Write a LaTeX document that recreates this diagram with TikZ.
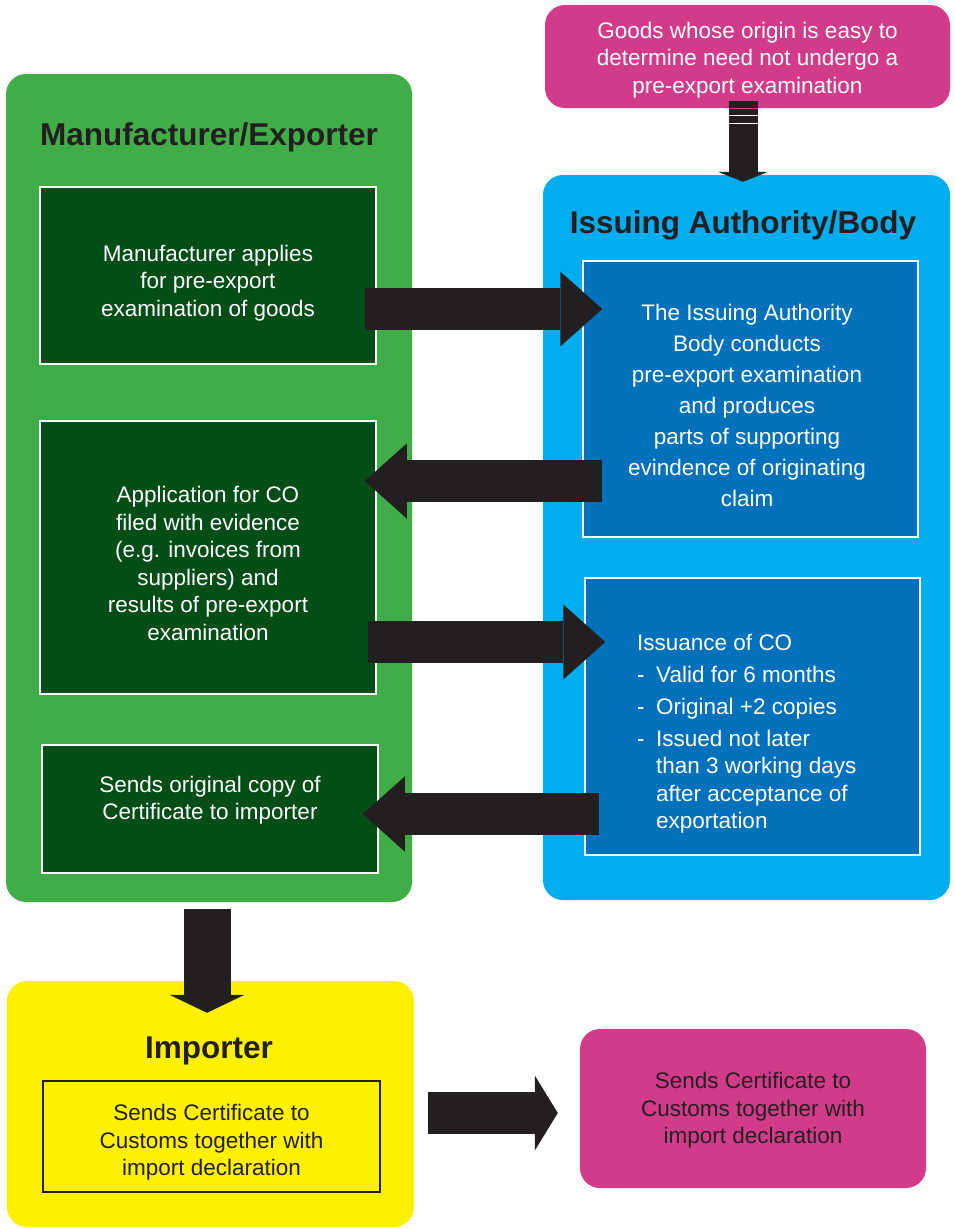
\documentclass[tikz,border=0pt]{standalone}
\usepackage{fontspec}
\setmainfont{Liberation Sans}
\usepackage{tikz}
\usetikzlibrary{arrows.meta,positioning,calc}
\usepackage{xcolor}

\definecolor{mfrgreen}{HTML}{41AD49}
\definecolor{boxgreen}{HTML}{034E16}
\definecolor{iabblue}{HTML}{00AEEF}
\definecolor{boxblue}{HTML}{0071BA}
\definecolor{notepink}{HTML}{D13B8A}
\definecolor{impyellow}{HTML}{FFF100}
\definecolor{arrowblack}{HTML}{231F20}

\begin{document}
\begin{tikzpicture}[
  x=1pt, y=-1pt,
  font=\fontsize{22.5}{27.5}\selectfont,
  panel/.style={rounded corners=20pt, inner sep=0pt},
  ttl/.style={font=\fontsize{31.5}{36}\selectfont\bfseries, text=arrowblack},
  gbox/.style={draw=white, line width=1.5pt, fill=boxgreen, inner sep=0pt},
  bbox/.style={gbox, fill=boxblue},
  txt/.style={align=center, inner sep=0pt, text=white},
  note/.style={panel, fill=notepink},
  blk/.style={draw=arrowblack, line width=42pt,
              -{Triangle[length=42pt 0 0, width=75pt 0 0, line width=0pt 0 0]}},
  stripe/.style={line width=0.9pt}
]
\useasboundingbox (0,0) rectangle (955,1229);

% ================= panels =================
\node[panel, fill=mfrgreen, minimum width=406pt, minimum height=828pt]
  (mfr) at (209,488) {};
\node[panel, fill=iabblue, minimum width=407pt, minimum height=725pt]
  (iab) at (746.5,537.5) {};
\node[panel, fill=impyellow, minimum width=407pt, minimum height=246pt]
  (imp) at (210.5,1104) {};

\node[ttl] (mfrttl) at (209,137) {Manufacturer/Exporter};
\node[ttl] (iabttl) at (743,225) {Issuing Authority/Body};
\node[ttl] (impttl) at (209,1051) {Importer};

% ================= notes =================
\node[note, minimum width=405pt, minimum height=103pt] (goods) at (747.5,56.5) {};
\node[txt] (goodstxt) at (747.5,60)
  {Goods whose origin is easy to\\determine need not undergo a\\pre-export examination};
\node[note, minimum width=346pt, minimum height=159pt] (customs) at (753,1108.5) {};
\node[txt, text=arrowblack] (customstxt) at (753,1110.5)
  {Sends Certificate to\\Customs together with\\import declaration};

% ================= manufacturer steps =================
\node[gbox, minimum width=336pt, minimum height=177pt] (apply) at (208,275.5) {};
\node[txt] (applytxt) at (208,283)
  {Manufacturer applies\\for pre-export\\examination of goods};
\node[gbox, minimum width=336pt, minimum height=273pt] (filed) at (208,557.5) {};
\node[txt] (filedtxt) at (208,563.5)
  {Application for CO\\filed with evidence\\(e.g. invoices from\\suppliers) and\\results of pre-export\\examination};
\node[gbox, minimum width=336pt, minimum height=128pt] (sends) at (210,809) {};
\node[txt] (sendstxt) at (210,800)
  {Sends original copy of\\Certificate to importer};

% ================= authority steps =================
\node[bbox, minimum width=335pt, minimum height=276pt] (exam) at (750.5,399) {};
\node[txt, font=\fontsize{22.5}{31}\selectfont] (examtxt) at (747,405)
  {The Issuing Authority\\Body conducts\\pre-export examination\\and produces\\parts of supporting\\evindence of originating\\claim};
\node[bbox, minimum width=335pt, minimum height=277pt] (issue) at (752.5,716.5) {};
\node[txt, align=left, anchor=north west] (issuetxt) at (637,634)
  {Issuance of CO\\[4.5pt]
   \makebox[19pt][l]{-}Valid for 6 months\\[4.5pt]
   \makebox[19pt][l]{-}Original +2 copies\\[4.5pt]
   \makebox[19pt][l]{-}Issued not later\\
   \hspace*{19pt}than 3 working days\\
   \hspace*{19pt}after acceptance of\\
   \hspace*{19pt}exportation};

% ================= importer step =================
\node[draw=arrowblack, line width=1.5pt, minimum width=337pt, minimum height=111pt,
      inner sep=0pt] (impsends) at (211.5,1136.5) {};
\node[txt, text=arrowblack] (impsendstxt) at (211.5,1142.5)
  {Sends Certificate to\\Customs together with\\import declaration};

% ================= block arrows =================
\draw[blk] ($(apply.east)+(-12,33.5)$) coordinate (a1)
  -- ($(exam.west |- a1)+(20,0)$);
\draw[blk] ($(exam.west)+(20,82)$) coordinate (a2)
  -- ($(filed.east |- a2)+(-12,0)$);
\draw[blk] ($(filed.east)+(-9,84.5)$) coordinate (a3)
  -- ($(issue.west |- a3)+(21,0)$);
\draw[blk] ($(issue.west)+(15,97.5)$) coordinate (a4)
  -- ($(sends.east |- a4)+(-16,0)$);
% certificate goes on to the importer
\draw[blk, line width=47pt,
      -{Triangle[length=18pt 0 0, width=75pt 0 0, line width=0pt 0 0]}]
  ($(mfr.south)+(-2,7)$) coordinate (a5) -- ($(imp.north -| a5)+(0,32)$);
\draw[blk, -{Triangle[length=23pt 0 0, width=75pt 0 0, line width=0pt 0 0]}]
  ($(imp.east)+(14,9)$) coordinate (a6) -- ($(customs.west |- a6)+(-22,0)$);
% exemption note feeds the authority
\draw[blk, line width=29pt,
      -{Triangle[length=10pt 0 0, width=50pt 0 0, line width=0pt 0 0]}]
  ($(goods.south)+(-4.5,-7)$) coordinate (a0) -- ($(iab.north -| a0)+(0,7)$);
\draw[stripe, notepink] ($(a0)+(-14.5,7)$) -- ++(29,0);
\draw[stripe, white] ($(a0)+(-14.5,14)$) -- ++(29,0);
\draw[stripe, white] ($(a0)+(-14.5,22)$) -- ++(29,0);
\end{tikzpicture}
\end{document}
